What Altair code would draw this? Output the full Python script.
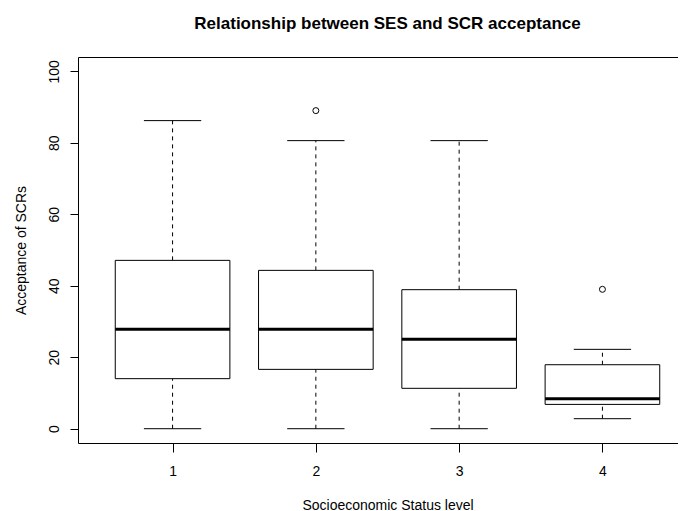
import altair as alt
import pandas as pd

# SES levels and box statistics
groups = [1, 2, 3, 4]
lower_whisker = [0.0, 0.0, 0.0, 2.8]
q1 = [14.0, 16.6, 11.3, 6.8]
median = [27.8, 27.8, 25.0, 8.4]
q3 = [47.1, 44.3, 38.9, 17.9]
upper_whisker = [86.2, 80.6, 80.6, 22.2]

outlier_group = [2, 4]
outlier_value = [89.0, 39.0]

x_ticks = [1, 2, 3, 4]
y_ticks = [0, 20, 40, 60, 80, 100]

FONT = "Liberation Sans"

stats = pd.DataFrame({
    "group": groups,
    "lo": lower_whisker,
    "q1": q1,
    "med": median,
    "q3": q3,
    "hi": upper_whisker,
})
outliers = pd.DataFrame({"group": outlier_group, "value": outlier_value})

xscale = alt.Scale(domain=[0.34, 4.66], nice=False, zero=False)
yscale = alt.Scale(domain=[-4, 104], nice=False, zero=False)

base = alt.Chart(stats).transform_calculate(
    xl="datum.group - 0.4",
    xr="datum.group + 0.4",
    cl="datum.group - 0.2",
    cr="datum.group + 0.2",
)

x_axis = alt.Axis(
    values=x_ticks, title="Socioeconomic Status level", grid=False, domain=False,
    tickSize=9, tickColor="black", labelPadding=23, labelBaseline="alphabetic",
    labelFont=FONT, labelFontSize=14, labelColor="black", labelAngle=0,
    titleFont=FONT, titleFontSize=14, titleFontWeight="normal", titleColor="black",
    titleBaseline="alphabetic", titleY=66,
)
y_axis = alt.Axis(
    values=y_ticks, title="Acceptance of SCRs", grid=False, domain=False,
    tickSize=8, tickColor="black", labelAngle=-90, labelAlign="center",
    labelBaseline="alphabetic", labelPadding=12,
    labelFont=FONT, labelFontSize=14, labelColor="black",
    titleFont=FONT, titleFontSize=14, titleFontWeight="normal", titleColor="black",
    titleBaseline="alphabetic", titleAlign="center", titleAngle=-90,
    titleX=-53, titleY=193,
)


def X(field):
    return alt.X(field, type="quantitative", scale=xscale, axis=x_axis)


def Y(field):
    return alt.Y(field, type="quantitative", scale=yscale, axis=y_axis)


upper = base.mark_rule(color="black", strokeWidth=1, strokeDash=[4, 4]).encode(
    x=X("group"), y=Y("q3"), y2="hi:Q",
)
lower = base.mark_rule(color="black", strokeWidth=1, strokeDash=[4, 4]).encode(
    x=X("group"), y=Y("lo"), y2="q1:Q",
)
cap_hi = base.mark_rule(color="black", strokeWidth=1).encode(
    x=X("cl"), x2="cr:Q", y=Y("hi"),
)
cap_lo = base.mark_rule(color="black", strokeWidth=1).encode(
    x=X("cl"), x2="cr:Q", y=Y("lo"),
)
box = base.mark_rect(fill="white", stroke="black", strokeWidth=1).encode(
    x=X("xl"), x2="xr:Q", y=Y("q1"), y2="q3:Q",
)
med = base.mark_rule(color="black", strokeWidth=3).encode(
    x=X("xl"), x2="xr:Q", y=Y("med"),
)
pts = alt.Chart(outliers).mark_point(
    shape="circle", filled=False, color="black", size=36, strokeWidth=1, opacity=1
).encode(
    x=X("group"), y=Y("value"),
)

chart = alt.layer(upper, lower, cap_hi, cap_lo, box, med, pts).properties(
    width=619,
    height=386,
    autosize=alt.AutoSizeParams(type="none"),
    padding={"left": 70, "top": 49, "right": -19, "bottom": 68},
    title=alt.TitleParams(
        "Relationship between SES and SCR acceptance",
        font=FONT, fontSize=17, fontWeight="bold", color="black",
        anchor="middle", frame="group", baseline="alphabetic", offset=11,
    ),
    background="white",
).configure_view(stroke="black", strokeWidth=1)

chart.save("out.html", embed_options={"renderer": "svg", "actions": False})
